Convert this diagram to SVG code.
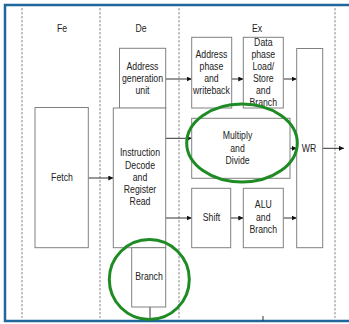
<svg xmlns="http://www.w3.org/2000/svg" width="349" height="324" viewBox="0 0 349 324">
<style>
text{font-family:"Liberation Sans",Arial,sans-serif;font-size:10px;fill:#222;text-anchor:middle;transform-box:fill-box;transform-origin:center;transform:scaleX(0.87)}
.box{fill:#fff;stroke:#808080;stroke-width:1}
.dash{stroke:#8a8a8a;stroke-width:1;stroke-dasharray:2.5 1.5;fill:none}
.conn{stroke:#333;stroke-width:1;fill:none}
.hl{fill:none;stroke:#1f8b24;stroke-width:3}
</style>
<defs>
<marker id="ah" markerUnits="userSpaceOnUse" markerWidth="6" markerHeight="6" refX="5" refY="2.5" orient="auto">
<path d="M0,0 L5,2.5 L0,5 z" fill="#111"/>
</marker>
</defs>
<rect x="0" y="0" width="349" height="324" fill="#fff"/>
<g id="frame">
<rect x="5" y="5" width="360" height="316" fill="none" stroke="#21679b" stroke-width="2.5"/>
</g>
<g id="stages">
<line class="dash" x1="22" y1="8" x2="22" y2="318"/>
<line class="dash" x1="100" y1="8" x2="100" y2="318"/>
<line class="dash" x1="179" y1="8" x2="179" y2="318"/>
<line class="dash" x1="335" y1="8" x2="335" y2="318"/>
<text x="62" y="32.5">Fe</text>
<text x="141" y="32.5">De</text>
<text x="257" y="32.5">Ex</text>
</g>
<g id="connectors">
<line class="conn" x1="165.7" y1="79" x2="191.7" y2="79" marker-end="url(#ah)"/>
<line class="conn" x1="231.7" y1="79" x2="243.3" y2="79" marker-end="url(#ah)"/>
<line class="conn" x1="283.3" y1="79" x2="296.7" y2="79" marker-end="url(#ah)"/>
<line class="conn" x1="88.3" y1="178" x2="113.3" y2="178" marker-end="url(#ah)"/>
<line class="conn" x1="165.7" y1="138.3" x2="191.7" y2="138.3" marker-end="url(#ah)"/>
<line class="conn" x1="290" y1="148.3" x2="296.7" y2="148.3" marker-end="url(#ah)"/>
<line class="conn" x1="322.7" y1="148.3" x2="344" y2="148.3" marker-end="url(#ah)"/>
<line class="conn" x1="165.7" y1="218" x2="191.7" y2="218" marker-end="url(#ah)"/>
<line class="conn" x1="230.7" y1="218" x2="243.3" y2="218" marker-end="url(#ah)"/>
<line class="conn" x1="283.3" y1="218" x2="296.7" y2="218" marker-end="url(#ah)"/>
<line class="conn" x1="150" y1="307" x2="150" y2="321" stroke="#666"/>
<line class="conn" x1="263" y1="316" x2="263" y2="321" stroke="#666"/>
</g>
<g id="agu">
<rect class="box" x="119.5" y="48.3" width="46.2" height="60"/>
<text x="142.5" y="70">Address<tspan x="142.5" dy="12.2">generation</tspan><tspan x="142.5" dy="12.2">unit</tspan></text>
</g>
<g id="fetch">
<rect class="box" x="35" y="107.5" width="53.3" height="140.2"/>
<text x="62" y="181.5">Fetch</text>
</g>
<g id="decode">
<rect class="box" x="113.3" y="108" width="52.4" height="139.7"/>
<text x="140" y="156.5">Instruction<tspan x="140" dy="12.2">Decode</tspan><tspan x="140" dy="12.2">and</tspan><tspan x="140" dy="12.2">Register</tspan><tspan x="140" dy="12.2">Read</tspan></text>
</g>
<g id="branch">
<rect class="box" x="131.7" y="247.7" width="34" height="59.3"/>
<text x="149" y="280.5">Branch</text>
</g>
<g id="addrphase">
<rect class="box" x="191.7" y="37.3" width="40" height="70.7"/>
<text x="211.5" y="57.8">Address<tspan x="211.5" dy="12.2">phase</tspan><tspan x="211.5" dy="12.2">and</tspan><tspan x="211.5" dy="12.2">writeback</tspan></text>
</g>
<g id="dataphase">
<rect class="box" x="243.3" y="37.3" width="40" height="70.7"/>
<text x="263.3" y="45.8">Data<tspan x="263.3" dy="12.1">phase</tspan><tspan x="263.3" dy="12.1">Load/</tspan><tspan x="263.3" dy="12.1">Store</tspan><tspan x="263.3" dy="12.1">and</tspan><tspan x="263.3" dy="12.1">Branch</tspan></text>
</g>
<g id="muldiv">
<rect class="box" x="191.7" y="118.3" width="98.3" height="60"/>
<text x="237.5" y="139.5">Multiply<tspan x="237.5" dy="12.2">and</tspan><tspan x="237.5" dy="12.2">Divide</tspan></text>
</g>
<g id="shift">
<rect class="box" x="191.7" y="188.3" width="39" height="59.4"/>
<text x="211.5" y="221.2">Shift</text>
</g>
<g id="alu">
<rect class="box" x="243.3" y="188.3" width="40" height="59.4"/>
<text x="263.3" y="208.5">ALU<tspan x="263.3" dy="12.4">and</tspan><tspan x="263.3" dy="12.4">Branch</tspan></text>
</g>
<g id="wr">
<rect class="box" x="296.7" y="48.5" width="26" height="199.2"/>
<text x="309" y="151.8">WR</text>
</g>
<g id="highlights">
<ellipse class="hl" cx="242" cy="143" rx="55.3" ry="39"/>
<circle class="hl" cx="149.3" cy="279.5" r="40"/>
</g>
</svg>
